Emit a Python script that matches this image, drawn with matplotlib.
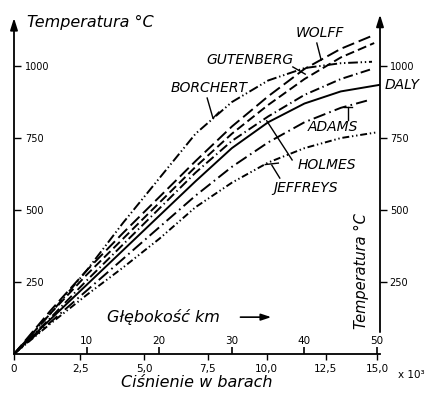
import matplotlib
matplotlib.use("Agg")
import matplotlib.pyplot as plt

plt.rcParams['font.family'] = ['DejaVu Sans']
plt.rcParams['lines.scale_dashes'] = False

# Glebokosc (km) - os pozioma, punkty krzywych
depth = [0, 5, 10, 15, 20, 25, 30, 35, 40, 45]

# Temperatura (C) wg roznych autorow
d_wolff = depth + [49.3]
t_wolff = [0, 150, 290, 420, 545, 670, 790, 895, 990, 1060, 1105]
d_gutenberg = depth + [49.6]
t_gutenberg = [0, 140, 275, 400, 525, 650, 765, 865, 955, 1030, 1080]
d_borchert = depth + [49.3]
t_borchert = [0, 140, 290, 455, 610, 765, 875, 950, 993, 1010, 1015]
d_holmes = depth + [49.3]
t_holmes = [0, 125, 255, 380, 505, 630, 740, 825, 900, 955, 990]
d_daly = depth + [50.4]
t_daly = [0, 120, 240, 360, 480, 600, 715, 805, 870, 912, 935]
d_adams = depth + [48.6]
t_adams = [0, 110, 220, 330, 440, 550, 650, 735, 805, 855, 880]
d_jeffreys = depth + [50.0]
t_jeffreys = [0, 105, 205, 300, 400, 510, 595, 665, 715, 750, 770]

temp_ticks = [250, 500, 750, 1000]
depth_ticks = [10, 20, 30, 40, 50]
# polozenie podzialki cisnienia na osi glebokosci
pressure_pos = [0, 9.1, 17.9, 26.7, 34.8, 42.9, 50.0]
pressure_labels = ['0', '2,5', '5,0', '7,5', '10,0', '12,5', '15,0']

fig = plt.figure(figsize=(4.29, 4.01), dpi=100)
ax = fig.add_axes([14 / 429, 47 / 401, 366 / 429, 336 / 401])
ax.set_xlim(0, 50.4)
ax.set_ylim(0, 1167)

lw = 1.4
ax.plot(d_wolff, t_wolff, color='k', lw=lw, dashes=(9, 3.5))
ax.plot(d_gutenberg, t_gutenberg, color='k', lw=lw, dashes=(6.5, 3))
ax.plot(d_borchert, t_borchert, color='k', lw=lw, dashes=(7, 2, 1, 2, 1, 2))
ax.plot(d_holmes, t_holmes, color='k', lw=lw, dashes=(7, 2.5, 1, 2.5))
ax.plot(d_daly, t_daly, color='k', lw=lw)
ax.plot(d_adams, t_adams, color='k', lw=lw, dashes=(9, 3, 1.2, 3))
ax.plot(d_jeffreys, t_jeffreys, color='k', lw=lw, dashes=(5, 2, 1, 2, 1, 2))

# osie ze strzalkami
for s in ['top', 'right', 'left']:
    ax.spines[s].set_visible(False)
ax.spines['bottom'].set_linewidth(1.3)
arrow = dict(arrowstyle='-|>,head_length=0.7,head_width=0.22', color='k',
             lw=1.3, shrinkA=0, shrinkB=0)
ax.annotate('', xy=(0, 1.0), xytext=(0, 0), xycoords='axes fraction',
            arrowprops=arrow, annotation_clip=False)
ax.annotate('', xy=(1, 1.01), xytext=(1, 76 / 1167), xycoords='axes fraction',
            arrowprops=arrow, annotation_clip=False)

ax.set_yticks(temp_ticks)
ax.tick_params(axis='y', direction='in', length=5, width=1, labelsize=7, pad=-8)
plt.setp(ax.get_yticklabels(), ha='left')

ax.set_xticks(pressure_pos, labels=pressure_labels)
ax.tick_params(axis='x', direction='out', length=4, width=1, labelsize=7.5, pad=3)
ax.text(52.9, -72, 'x 10³', fontsize=7.5, ha='left', va='center', clip_on=False)
ax.set_xlabel('Ciśnienie w barach', fontsize=11.5, style='italic', labelpad=1)

# skala glebokosci
secax = ax.secondary_xaxis(0)
secax.set_alignment('top')
secax.set_xticks(depth_ticks)
secax.tick_params(direction='out', length=5, width=1.2, labelsize=7.5, pad=1)
for s in secax.spines.values():
    s.set_visible(False)

ax.text(12.8, 128, 'Głębokość km', fontsize=11.5, style='italic', ha='left', va='center')
ax.annotate('', xy=(35.8, 128), xytext=(30.8, 128),
            arrowprops=dict(arrowstyle='-|>,head_length=0.6,head_width=0.2',
                            color='k', lw=1.2))

# prawa os temperatury
ax2 = ax.twinx()
ax2.set_ylim(ax.get_ylim())
for s in ax2.spines.values():
    s.set_visible(False)
ax2.set_yticks(temp_ticks)
ax2.tick_params(axis='y', direction='out', length=5, width=1, labelsize=7, pad=2)

fig.text(27 / 429, 1 - 22 / 401, 'Temperatura °C', fontsize=11.5, style='italic',
         ha='left', va='center')
fig.text(361 / 429, 1 - 271 / 401, 'Temperatura °C', fontsize=10.5, style='italic',
         rotation=90, ha='center', va='center')

# podpisy krzywych
lab = dict(fontsize=10, style='italic', ha='center', va='center')
ax.text(42.1, 1115, 'WOLFF', **lab)
ax.text(32.5, 1021, 'GUTENBERG', **lab)
ax.text(26.9, 924, 'BORCHERT', **lab)
ax.text(51.0, 934, 'DALY', fontsize=10, style='italic', ha='left', va='center')
ax.text(43.9, 788, 'ADAMS', **lab)
ax.text(43.1, 656, 'HOLMES', **lab)
ax.text(40.1, 576, 'JEFFREYS', **lab)

lead = dict(color='k', lw=1.0)
ax.plot([41.7, 42.3], [1080, 1021], **lead)
ax.plot([38.4, 40.1], [997, 972], **lead)
ax.plot([26.6, 27.4, 28.2], [889, 819, 840], **lead)
ax.plot([46.0, 46.0], [812, 858], **lead)
ax.plot([45.4, 46.6], [858, 858], **lead)
ax.plot([38.3, 34.8], [674, 810], **lead)
ax.plot([36.6, 35.5], [611, 656], **lead)
ax.plot([34.6, 36.4], [658, 663], **lead)

fig.savefig('out.png', dpi=100)
